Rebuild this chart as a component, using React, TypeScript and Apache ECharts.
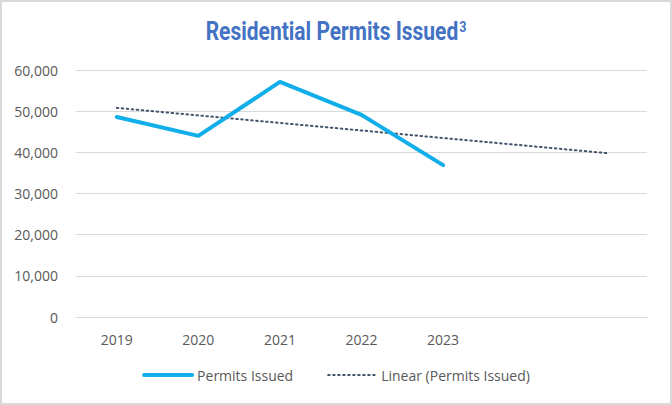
import React, { useEffect, useRef } from "react";
import * as echarts from "echarts";

const categories = ["2019", "2020", "2021", "2022", "2023", "", ""];
const permits = [48600, 44000, 57100, 49100, 36900];
const yTicks = { min: 0, max: 60000, interval: 10000 };

function linearTrend(values: number[], count: number): number[] {
  const n = values.length;
  const xs = values.map((_, i) => i);
  const mx = xs.reduce((a, b) => a + b, 0) / n;
  const my = values.reduce((a, b) => a + b, 0) / n;
  let num = 0, den = 0;
  for (let i = 0; i < n; i++) { num += (xs[i] - mx) * (values[i] - my); den += (xs[i] - mx) ** 2; }
  const slope = num / den;
  const b = my - slope * mx;
  return Array.from({ length: count }, (_, i) => b + slope * i);
}

export default function App() {
  const ref = useRef<HTMLDivElement>(null);
  useEffect(() => {
    document.body.style.margin = "0";
    const chart = echarts.init(ref.current!, null, { renderer: "svg" });
    const font = "'Open Sans', 'Liberation Sans', sans-serif";
    chart.setOption({
      animation: false,
      backgroundColor: "#fff",
      grid: { left: 76, right: 25, top: 70, bottom: 88 },
      xAxis: {
        type: "category",
        data: categories,
        boundaryGap: true,
        axisLine: { show: true, lineStyle: { color: "#d9d9d9" } },
        axisTick: { show: false },
        axisLabel: { color: "#595959", fontFamily: font, fontSize: 14, margin: 15 },
      },
      yAxis: {
        type: "value",
        min: yTicks.min,
        max: yTicks.max,
        interval: yTicks.interval,
        axisLine: { show: false },
        axisTick: { show: false },
        splitLine: { lineStyle: { color: "#d9d9d9", width: 1 } },
        axisLabel: {
          color: "#595959", fontFamily: font, fontSize: 14, margin: 18,
          formatter: (v: number) => v.toLocaleString("en-US"),
        },
      },
      legend: {
        bottom: 18,
        left: "center",
        itemWidth: 48,
        itemHeight: 10,
        itemGap: 34,
        itemStyle: { opacity: 0 },
        textStyle: { color: "#595959", fontFamily: font, fontSize: 14 },
        data: [
          { name: "Permits Issued", lineStyle: { width: 4 } },
          { name: "Linear (Permits Issued)", lineStyle: { width: 2 } },
        ],
      },
      series: [
        {
          name: "Permits Issued",
          type: "line",
          data: permits,
          symbol: "none",
          lineStyle: { color: "#12AEEA", width: 4, cap: "round", join: "round" },
          itemStyle: { color: "#12AEEA" },
          z: 3,
        },
        {
          name: "Linear (Permits Issued)",
          type: "line",
          data: linearTrend(permits, categories.length),
          symbol: "none",
          lineStyle: { color: "#44546A", width: 2, type: [1.5, 3.5], cap: "round" },
          itemStyle: { color: "#44546A" },
          z: 2,
        },
      ],
      graphic: [
        { type: "rect", shape: { x: 1, y: 1, width: 670, height: 403 }, style: { fill: "none", stroke: "#d9d9d9", lineWidth: 2 }, silent: true },
        {
          type: "text",
          x: 336,
          y: 32,
          scaleX: 0.84,
          style: {
            text: "Residential Permits Issued{sup|3}",
            align: "center",
            verticalAlign: "middle",
            fill: "#4472C4",
            font: "bold 25px Roboto, 'Liberation Sans', sans-serif",
            rich: {
              sup: { fontSize: 15, fontWeight: "bold", fill: "#4472C4", verticalAlign: "top", padding: [0, 0, 10, 1], fontFamily: "Roboto" },
            },
          },
          silent: true,
        },
      ],
    });
    return () => chart.dispose();
  }, []);
  return <div ref={ref} style={{ position: "absolute", left: 0, top: 0, width: 672, height: 405 }} />;
}
